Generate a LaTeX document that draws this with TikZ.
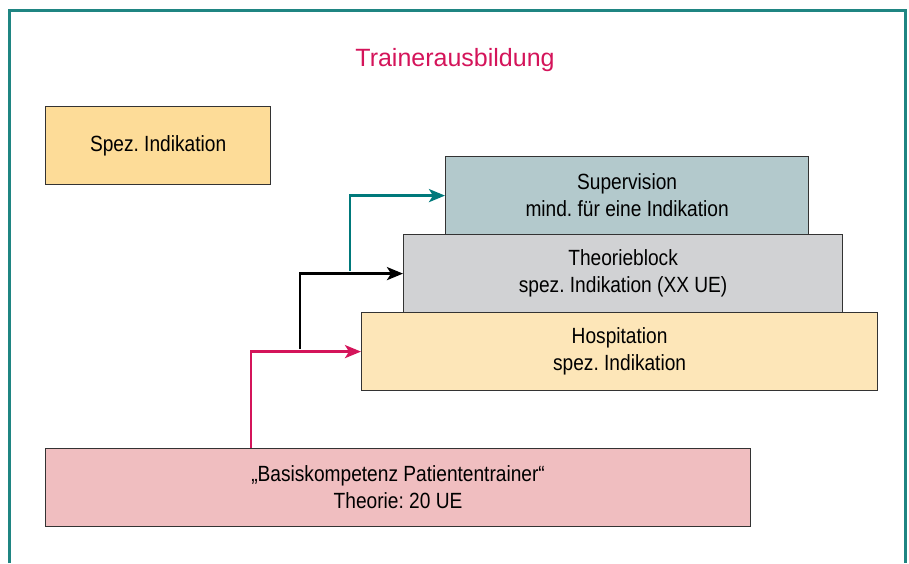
\documentclass[tikz,border=0pt]{standalone}
\usepackage{fontspec}
\setmainfont{Liberation Sans}
\newfontfamily\condfont[FakeStretch=0.87]{Liberation Sans}
\usetikzlibrary{arrows.meta,calc}
\definecolor{frameteal}{HTML}{1F8582}
\definecolor{titlered}{HTML}{D4145A}
\definecolor{arrteal}{HTML}{00797B}
\definecolor{fillorange}{HTML}{FDDC98}
\definecolor{fillsuper}{HTML}{B3C9CC}
\definecolor{filltheo}{HTML}{D1D2D4}
\definecolor{fillhosp}{HTML}{FDE6B8}
\definecolor{fillbasis}{HTML}{F0BEC0}
\frenchspacing
\begin{document}
\begin{tikzpicture}[x=1pt,y=-1pt,
  stepbox/.style={draw=black!80,line width=1.2pt,rectangle,anchor=north west,inner sep=0pt,align=center,
     font=\condfont\fontsize{22}{27}\selectfont},
  conn/.style={line width=2.8pt,-{Stealth[length=16pt,width=13pt,inset=4pt]}}]
\useasboundingbox (0,0) rectangle (909,563);
\draw[frameteal,line width=3pt] (9.5,563) -- (9.5,10.5) -- (905,10.5) -- (905,563);
\node[text=titlered,font=\fontsize{25}{30}\selectfont] (title) at (455,60) {Trainerausbildung};
\node[stepbox,fill=fillorange,minimum width=225pt,minimum height=78pt] (spez) at (45,106) {Spez. Indikation};
\node[stepbox,fill=fillsuper,minimum width=363pt,minimum height=78pt] (sup) at (445,156) {Supervision\\mind. für eine Indikation};
\node[stepbox,fill=filltheo,minimum width=439pt,minimum height=78pt] (theo) at (403,234) {Theorieblock\\spez. Indikation (XX UE)};
\node[stepbox,fill=fillhosp,minimum width=516pt,minimum height=78pt] (hosp) at (361,312) {Hospitation\\spez. Indikation};
\node[stepbox,fill=fillbasis,minimum width=705pt,minimum height=78pt] (basis) at (45,448) {„Basiskompetenz Patiententrainer“\\Theorie: 20 UE};
\coordinate (pstart) at (251,448);
\coordinate (bstart) at (300,349);
\coordinate (tstart) at (350,271);
\draw[conn,titlered] (pstart) |- (hosp.west);
\draw[conn,black] (bstart) |- (theo.west);
\draw[conn,arrteal] (tstart) |- (sup.west);
\end{tikzpicture}
\end{document}
